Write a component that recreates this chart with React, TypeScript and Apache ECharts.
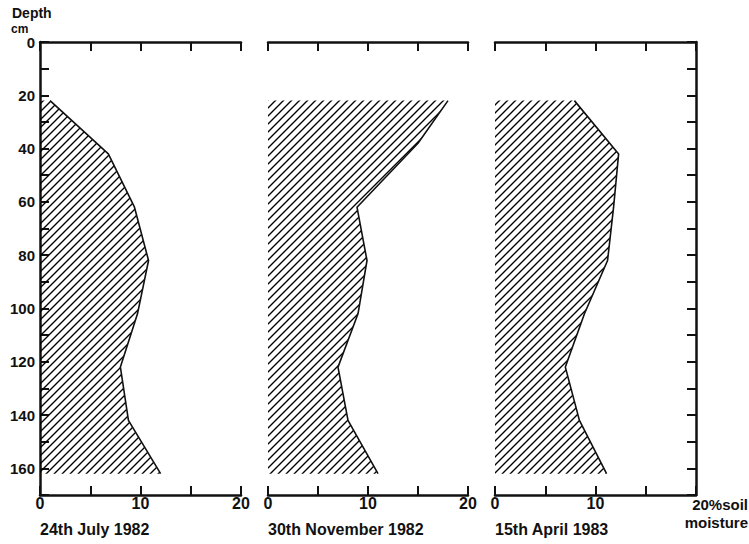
import React, { useEffect, useRef } from 'react';
import * as echarts from 'echarts';

// Depth (cm) and soil moisture (%) read from the profiles
const depthJuly = [22, 42, 62, 82, 102, 122, 142, 162];
const moistureJuly = [1.0, 6.8, 9.4, 10.8, 9.7, 8.0, 8.8, 12.0];
const depthNov = [22, 38, 62, 82, 102, 122, 142, 162];
const moistureNov = [18.0, 15.0, 8.9, 9.9, 9.0, 7.0, 8.0, 11.0];
const depthApr = [22, 42, 62, 82, 102, 122, 142, 162];
const moistureApr = [7.9, 12.3, 11.8, 11.2, 8.9, 7.0, 8.4, 11.1];

const panelTitles = ['24th July 1982', '30th November 1982', '15th April 1983'];
const depthAxisTitle = ['Depth', 'cm'];
const moistureAxisTitle = ['20%soil', 'moisture'];

const FONT = '"Liberation Sans", Arial, Helvetica, sans-serif';
const INK = '#111';

export default function App() {
  const ref = useRef<HTMLDivElement>(null);
  useEffect(() => {
    const chart = echarts.init(ref.current as HTMLDivElement, null, { renderer: 'svg' });
    const hatchSvg =
      "<svg xmlns='http://www.w3.org/2000/svg' width='8' height='8'><path d='M0,8 L8,0 M-2,2 L2,-2 M6,10 L10,6' stroke='black' stroke-width='1.35'/></svg>";
    const hatch: any = {
      image: 'data:image/svg+xml;charset=utf-8,' + encodeURIComponent(hatchSvg),
      repeat: 'repeat',
      imageWidth: 8,
      imageHeight: 8,
    };

    const panels = [
      { depth: depthJuly, moisture: moistureJuly },
      { depth: depthNov, moisture: moistureNov },
      { depth: depthApr, moisture: moistureApr },
    ];
    const lefts = [40, 268, 495];
    const widths = [201, 200, 201];

    const grids = lefts.map((l, i) => ({
      left: l,
      top: 42,
      width: widths[i],
      height: 453,
      containLabel: false,
      outerBoundsMode: 'none',
    }));

    const axisLine = { show: true, onZero: false, lineStyle: { color: INK, width: 2.5 } };
    const axisTick = { show: true, inside: true, length: 9, lineStyle: { color: INK, width: 2 } };
    const labelStyle = { color: INK, fontSize: 16, fontWeight: 'bold' as const, fontFamily: FONT };

    const xAxes: any[] = [];
    panels.forEach((_, i) => {
      xAxes.push({
        type: 'value',
        gridIndex: i,
        position: 'bottom',
        min: 0,
        max: 20,
        interval: 5,
        axisLine,
        axisTick,
        splitLine: { show: false },
        axisLabel: {
          ...labelStyle,
          margin: 0,
          formatter: (v: number) => (v % 10 === 0 && !(i === 2 && v === 20) ? String(v) : ''),
        },
      });
      xAxes.push({
        type: 'value',
        gridIndex: i,
        position: 'top',
        min: 0,
        max: 20,
        interval: 5,
        axisLine,
        axisTick,
        splitLine: { show: false },
        axisLabel: { show: false },
      });
    });

    const yAxes = panels.map((_, i) => ({
      type: 'value',
      gridIndex: i,
      inverse: true,
      position: i === 2 ? 'right' : 'left',
      min: 0,
      max: 170,
      interval: 10,
      axisLine: { ...axisLine, show: i !== 1 },
      axisTick: { ...axisTick, show: i !== 1 },
      splitLine: { show: false },
      axisLabel: {
        show: i === 0,
        ...labelStyle,
        fontSize: 15,
        margin: 5,
        formatter: (v: number) => (v % 20 === 0 ? String(v) : ''),
      },
    }));

    const series: any[] = [];
    panels.forEach((p, i) => {
      series.push({
        type: 'custom',
        xAxisIndex: i * 2,
        yAxisIndex: i,
        silent: true,
        data: [[0, 0]],
        renderItem: (_params: any, api: any) => {
          const pts: number[][] = [api.coord([0, p.depth[0]])];
          p.depth.forEach((d, k) => pts.push(api.coord([p.moisture[k], d])));
          pts.push(api.coord([0, p.depth[p.depth.length - 1]]));
          return {
            type: 'polygon',
            shape: { points: pts },
            style: { fill: hatch, stroke: 'none' },
          };
        },
        z: 1,
      });
      series.push({
        type: 'line',
        xAxisIndex: i * 2,
        yAxisIndex: i,
        data: p.moisture.map((m, k) => [m, p.depth[k]]),
        showSymbol: false,
        symbol: 'none',
        lineStyle: { color: INK, width: 1.6 },
        silent: true,
        z: 2,
      });
    });

    const textStyle = (text: string, x: number, y: number, extra: any = {}) => ({
      type: 'text',
      x,
      y,
      silent: true,
      style: {
        text,
        fill: INK,
        fontSize: 16,
        fontWeight: 'bold',
        fontFamily: FONT,
        textAlign: 'left',
        textVerticalAlign: 'middle',
        ...extra,
      },
    });

    const graphic: any[] = [
      ...panelTitles.map((t, i) => textStyle(t, lefts[i], 529)),
      textStyle(depthAxisTitle[0], 12, 13, { fontSize: 14 }),
      textStyle(depthAxisTitle[1], 11, 29, { fontSize: 12 }),
      textStyle(moistureAxisTitle[0], 748, 504, { textAlign: 'right', fontSize: 15 }),
      textStyle(moistureAxisTitle[1], 748, 522, { textAlign: 'right', fontSize: 15 }),
    ];

    chart.setOption({
      animation: false,
      backgroundColor: '#fff',
      grid: grids,
      xAxis: xAxes,
      yAxis: yAxes,
      series,
      graphic,
    });
    return () => chart.dispose();
  }, []);
  return (
    <div
      ref={ref}
      style={{ position: 'fixed', left: 0, top: 0, width: 749, height: 544, background: '#fff' }}
    />
  );
}
